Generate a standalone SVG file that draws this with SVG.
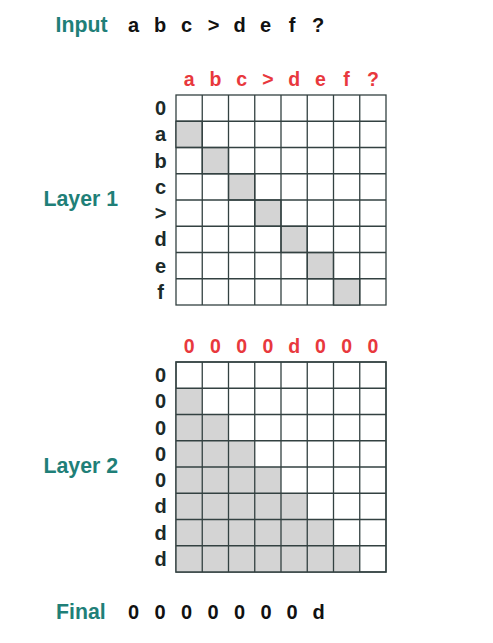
<svg xmlns="http://www.w3.org/2000/svg" width="493" height="643" viewBox="0 0 493 643">
<style>
.t{font-family:"Liberation Sans",Arial,sans-serif;font-weight:bold}
.teal{fill:#1f7f78;font-size:21.3px}
.blk{fill:#111;font-size:20px;text-anchor:middle}
.red{fill:#e8383d;font-size:19.5px;text-anchor:middle}
.row{fill:#1b2a2a;font-size:20px;text-anchor:middle}
.cell{fill:#fff;stroke:#334141;stroke-width:1.3}
.sh{fill:#d4d4d4;stroke:#334141;stroke-width:1.3}
</style>
<rect width="493" height="643" fill="#fff"/>
<g id="input">
<text class="t teal" x="55.5" y="32">Input</text>
<g class="t blk">
<text x="133.5" y="32">a</text><text x="160" y="32">b</text><text x="186.5" y="32">c</text><text x="213.5" y="32">&gt;</text><text x="239.5" y="32">d</text><text x="265.5" y="32">e</text><text x="292" y="32">f</text><text x="318" y="32">?</text>
</g>
</g>
<g id="layer1">
<text class="t teal" x="43.5" y="205.5">Layer 1</text>
<g class="t red">
<text x="189.1" y="85.5">a</text><text x="215.4" y="85.5">b</text><text x="241.6" y="85.5">c</text><text x="267.9" y="85.5">&gt;</text><text x="294.1" y="85.5">d</text><text x="320.4" y="85.5">e</text><text x="346.6" y="85.5">f</text><text x="372.9" y="85.5">?</text>
</g>
<g class="t row">
<text x="160.5" y="115">0</text><text x="160.5" y="141.3">a</text><text x="160.5" y="167.5">b</text><text x="160.5" y="193.8">c</text><text x="160.5" y="220">&gt;</text><text x="160.5" y="246.3">d</text><text x="160.5" y="272.5">e</text><text x="160.5" y="298.8">f</text>
</g>
<g id="grid1">
<rect class="cell" x="176" y="95" width="210" height="210"/>
<rect class="sh" x="176" y="121.25" width="26.25" height="26.25"/>
<rect class="sh" x="202.25" y="147.5" width="26.25" height="26.25"/>
<rect class="sh" x="228.5" y="173.75" width="26.25" height="26.25"/>
<rect class="sh" x="254.75" y="200" width="26.25" height="26.25"/>
<rect class="sh" x="281" y="226.25" width="26.25" height="26.25"/>
<rect class="sh" x="307.25" y="252.5" width="26.25" height="26.25"/>
<rect class="sh" x="333.5" y="278.75" width="26.25" height="26.25"/>
<path stroke="#334141" stroke-width="1.3" fill="none" d="M202.25 95V305M228.5 95V305M254.75 95V305M281 95V305M307.25 95V305M333.5 95V305M359.75 95V305M176 121.25H386M176 147.5H386M176 173.75H386M176 200H386M176 226.25H386M176 252.5H386M176 278.75H386"/>
</g>
</g>
<g id="layer2">
<text class="t teal" x="43.5" y="473">Layer 2</text>
<g class="t red">
<text x="189.1" y="353">0</text><text x="215.4" y="353">0</text><text x="241.6" y="353">0</text><text x="267.9" y="353">0</text><text x="294.1" y="353">d</text><text x="320.4" y="353">0</text><text x="346.6" y="353">0</text><text x="372.9" y="353">0</text>
</g>
<g class="t row">
<text x="160.5" y="382">0</text><text x="160.5" y="408.3">0</text><text x="160.5" y="434.5">0</text><text x="160.5" y="460.8">0</text><text x="160.5" y="487">0</text><text x="160.5" y="513.3">d</text><text x="160.5" y="539.5">d</text><text x="160.5" y="565.8">d</text>
</g>
<g id="grid2">
<rect class="cell" x="176" y="362" width="210" height="210"/>
<path fill="#d4d4d4" d="M176 388.25H202.25V414.5H228.5V440.75H254.75V467H281V493.25H307.25V519.5H333.5V545.75H359.75V572H176Z"/>
<path stroke="#334141" stroke-width="1.3" fill="none" d="M176 362H386V572H176ZM202.25 362V572M228.5 362V572M254.75 362V572M281 362V572M307.25 362V572M333.5 362V572M359.75 362V572M176 388.25H386M176 414.5H386M176 440.75H386M176 467H386M176 493.25H386M176 519.5H386M176 545.75H386"/>
</g>
</g>
<g id="final">
<text class="t teal" x="56" y="619">Final</text>
<g class="t blk">
<text x="133.5" y="619">0</text><text x="160" y="619">0</text><text x="186.5" y="619">0</text><text x="213" y="619">0</text><text x="239.5" y="619">0</text><text x="266" y="619">0</text><text x="292" y="619">0</text><text x="318.5" y="619">d</text>
</g>
</g>
</svg>
